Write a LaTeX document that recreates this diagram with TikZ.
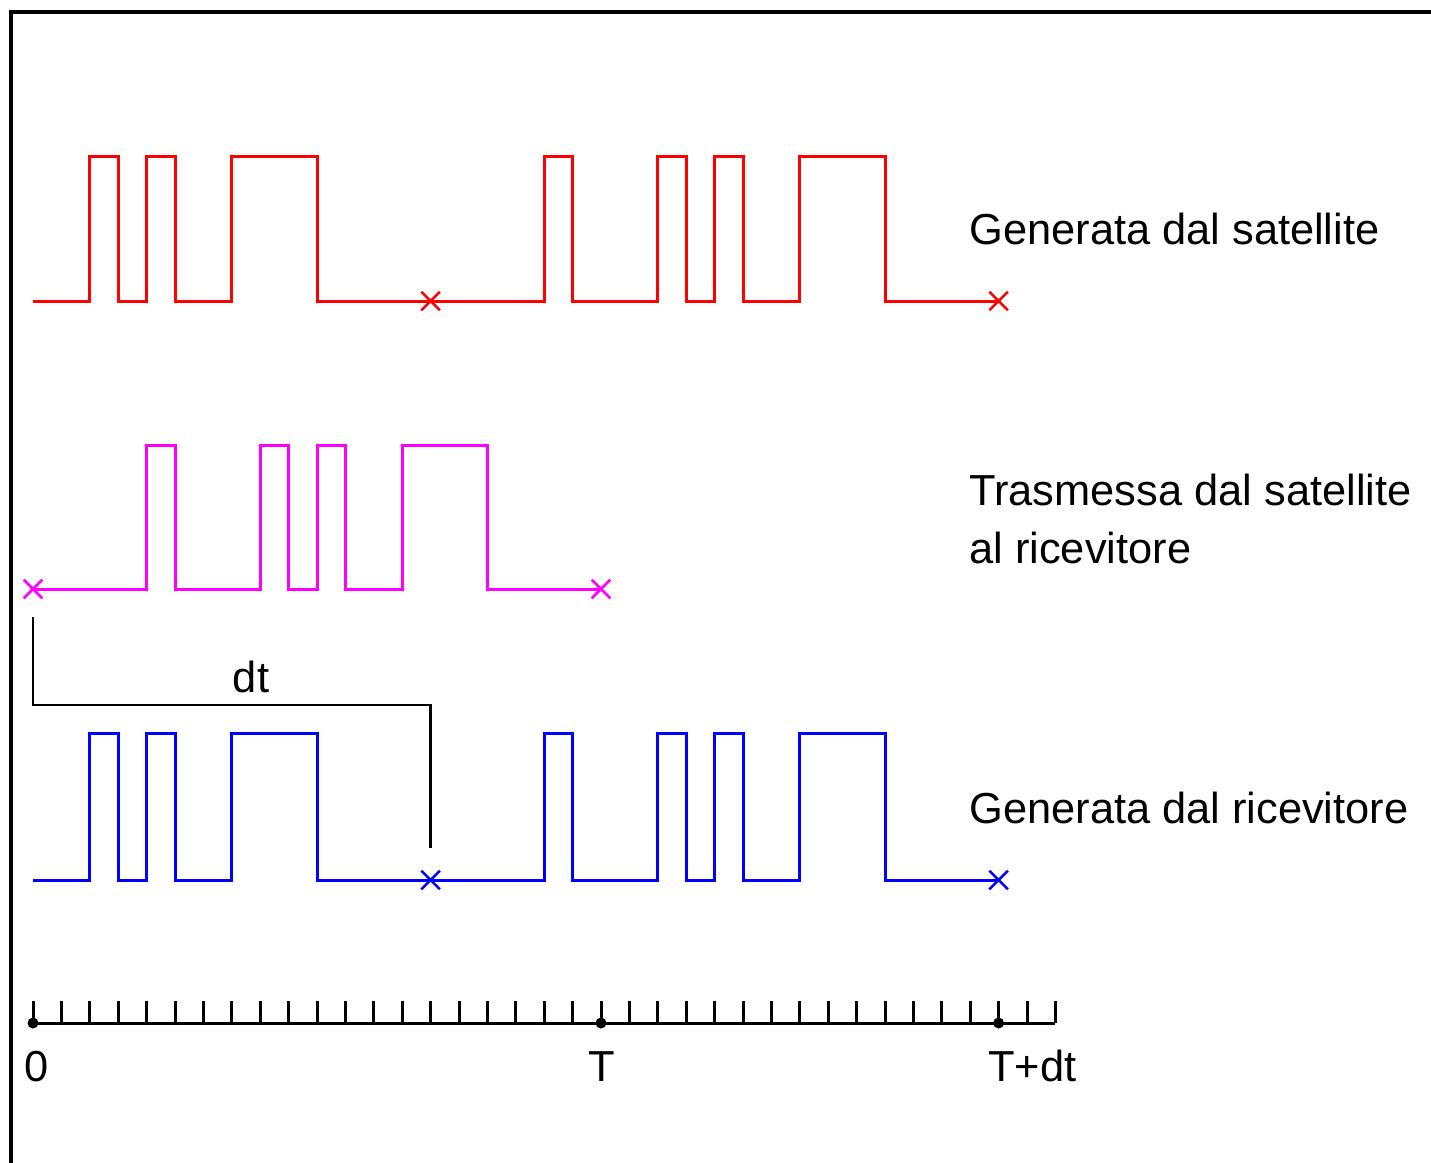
\documentclass[tikz,border=0pt]{standalone}
\usepackage{fontspec}
\setmainfont{Liberation Sans}
\usetikzlibrary{shapes.misc}
% horizontal position of the k-th time step
\newcommand\X[1]{33+28.4*#1}
\definecolor{sigred}{RGB}{255,0,0}
\definecolor{sigmag}{RGB}{255,0,255}
\definecolor{sigblue}{RGB}{0,0,255}
\tikzset{
  sig/.style={line width=1.5pt, line join=miter},
  xmark/.style={cross out, draw, line width=1.3pt, minimum size=8pt, inner sep=0pt},
  lbl/.style={inner sep=0pt, font=\fontsize{21.7pt}{26pt}\selectfont, anchor=base west},
  dot/.style={circle, fill=black, inner sep=0pt, minimum size=5.5pt},
}
\begin{document}
\begin{tikzpicture}[x=0.5pt,y=-0.5pt]
\useasboundingbox (0,0) rectangle (1431,1163);

% frame
\draw[line width=1.6pt] (11,1163) -- (11,12) -- (1431,12);

% code generated by the satellite
\draw[sig, sigred] (\X{0},301)
  foreach \a/\b in {2/3,4/5,7/10,18/19,22/23,24/25,27/30}
  { -- (\X{\a},301) -- (\X{\a},156) -- (\X{\b},156) -- (\X{\b},301) }
  -- (\X{34},301);
\node[xmark, sigred] (r1) at (\X{14},301) {};
\node[xmark, sigred] (r2) at (\X{34},301) {};

% code transmitted to the receiver
\draw[sig, sigmag] (\X{0},589)
  foreach \a/\b in {4/5,8/9,10/11,13/16}
  { -- (\X{\a},589) -- (\X{\a},445) -- (\X{\b},445) -- (\X{\b},589) }
  -- (\X{20},589);
\node[xmark, sigmag] (m1) at (\X{0},589) {};
\node[xmark, sigmag] (m2) at (\X{20},589) {};

% replica generated by the receiver
\draw[sig, sigblue] (\X{0},880)
  foreach \a/\b in {2/3,4/5,7/10,18/19,22/23,24/25,27/30}
  { -- (\X{\a},880) -- (\X{\a},733) -- (\X{\b},733) -- (\X{\b},880) }
  -- (\X{34},880);
\node[xmark, sigblue] (b1) at (\X{14},880) {};
\node[xmark, sigblue] (b2) at (\X{34},880) {};

% delay bracket
\coordinate (dtA) at (\X{0},617);
\coordinate (dtM) at (\X{7},705);
\coordinate (dtB) at (\X{14},848);
\draw[line width=1.2pt] (dtA) |- (dtM) -| (dtB);
\node[lbl, anchor=base] (dt) at (251,692) {dt};

% labels
\node[lbl] (lsat) at (969,244) {Generata dal satellite};
\node[lbl] (ltx1) at (969,505) {Trasmessa dal satellite};
\node[lbl] (ltx2) at (969,563) {al ricevitore};
\node[lbl] (lrx) at (969,823) {Generata dal ricevitore};

% time axis
\draw[line width=1.5pt] (\X{0},1023) -- (\X{36},1023);
\foreach \k in {0,...,36} \draw[line width=1.5pt] (\X{\k},1023) -- (\X{\k},1001);
\node[dot] (t0) at (\X{0},1023) {};
\node[dot] (tT) at (\X{20},1023) {};
\node[dot] (tTdt) at (\X{34},1023) {};
\node[lbl] (n0) at (24,1081) {0};
\node[lbl, anchor=base] (nT) at (602,1081) {T};
\node[lbl] (nTdt) at (988,1081) {T+dt};
\end{tikzpicture}
\end{document}
